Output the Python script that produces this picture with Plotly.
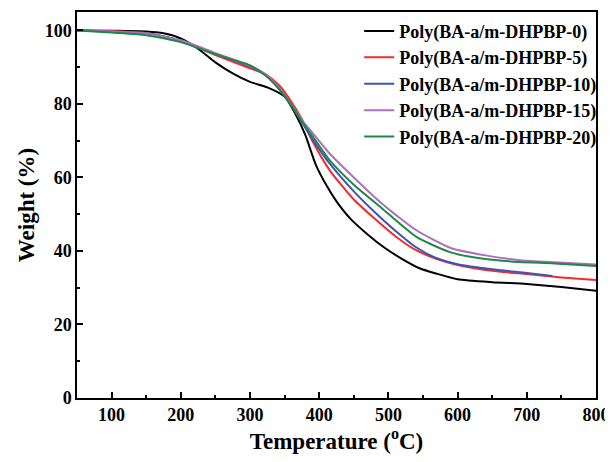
import plotly.graph_objects as go

names = ["Poly(BA-a/m-DHPBP-0)", "Poly(BA-a/m-DHPBP-5)", "Poly(BA-a/m-DHPBP-10)",
         "Poly(BA-a/m-DHPBP-15)", "Poly(BA-a/m-DHPBP-20)"]
colors = ["#000000", "#f52a2a", "#3a55b8", "#b06cbf", "#1c8a45"]

t0 = [50, 100, 150, 175, 200, 225, 250, 275, 300, 325, 350, 365, 380, 395, 410, 425,
      445, 470, 495, 520, 545, 570, 600, 650, 700, 750, 800]
w0 = [100, 99.9, 99.7, 99.2, 97.8, 95.0, 91.3, 88.3, 86.0, 84.5, 82.0, 77.5, 71.5, 63.5,
      58.0, 53.5, 48.8, 44.5, 40.8, 37.8, 35.3, 33.8, 32.3, 31.5, 31.0, 30.2, 29.2]

t5 = [50, 100, 150, 200, 250, 300, 325, 345, 360, 375, 390, 415, 450, 480, 510, 540,
      570, 600, 650, 700, 750, 800]
w5 = [100, 99.8, 99.3, 97.2, 93.3, 89.7, 87.8, 84.5, 80.5, 75.8, 70.0, 62.0, 54.0, 48.8,
      44.0, 40.2, 37.8, 36.2, 34.6, 33.7, 32.8, 32.1]

t10 = [50, 100, 150, 200, 250, 300, 325, 345, 360, 375, 390, 415, 450, 480, 510, 540,
       570, 600, 650, 700, 737]
w10 = [100, 99.7, 99.2, 97.3, 93.6, 90.2, 87.5, 83.6, 79.5, 75.0, 70.5, 63.8, 56.2, 50.6,
       45.5, 41.0, 38.0, 36.4, 35.0, 34.0, 33.2]

t15 = [50, 100, 150, 200, 250, 300, 325, 345, 360, 375, 390, 415, 450, 490, 540, 590,
       640, 690, 740, 800]
w15 = [100, 99.7, 99.2, 97.3, 93.8, 90.4, 87.7, 83.6, 79.8, 75.6, 72.2, 66.5, 60.0, 53.0,
       45.7, 40.8, 38.8, 37.5, 36.9, 36.3]

t20 = [50, 100, 150, 200, 250, 300, 325, 345, 360, 375, 390, 415, 450, 490, 540, 590,
       640, 690, 740, 800]
w20 = [100, 99.4, 98.7, 96.8, 93.5, 90.5, 87.3, 83.3, 79.6, 75.2, 71.3, 64.7, 58.0, 51.7,
       43.9, 39.6, 37.8, 37.0, 36.6, 35.9]

temps = [t0, t5, t10, t15, t20]
weights = [w0, w5, w10, w15, w20]

font = "Liberation Serif"

fig = go.Figure()
for i, (t, w) in enumerate(zip(temps, weights)):
    fig.add_trace(go.Scatter(
        x=t, y=w, mode="lines", name=names[i],
        line=dict(color=colors[i], width=2, shape="spline", smoothing=0.6),
        legendgroup=str(i),
    ))

axis_common = dict(
    showline=True, linecolor="black", linewidth=1.5, mirror=True,
    ticks="inside", ticklen=6, tickwidth=1.5, tickcolor="black",
    showgrid=False, zeroline=False, automargin=False,
    tickfont=dict(family=font, size=18, color="black", weight="bold"),
)

fig.update_xaxes(
    range=[50, 800], dtick=100, tick0=0,
    minor=dict(dtick=50, ticklen=3, ticks="inside", tickcolor="black", tickwidth=1.5),
    title=dict(text="Temperature (<sup>o</sup>C)",
               font=dict(family=font, size=23, color="black", weight="bold"), standoff=20),
    ticklabeloverflow="allow",
    **axis_common,
)
fig.update_yaxes(
    range=[0, 105], dtick=20, tick0=0,
    minor=dict(dtick=10, ticklen=3, ticks="inside", tickcolor="black", tickwidth=1.5),
    title=dict(text="Weight (%)",
               font=dict(family=font, size=23, color="black", weight="bold"), standoff=4),
    **axis_common,
)

# page body adds an 8px offset; keep the figure small enough that no scrollbars appear
fig.update_layout(
    width=605, height=446,
    margin=dict(l=69, r=17, t=4, b=56),
    plot_bgcolor="white", paper_bgcolor="white",
    legend=dict(x=1.01, xanchor="right", y=0.998, yanchor="top",
                bgcolor="rgba(0,0,0,0)", tracegroupgap=0,
                font=dict(family=font, size=18, color="black", weight="bold")),
)

fig.write_html("out.html")
